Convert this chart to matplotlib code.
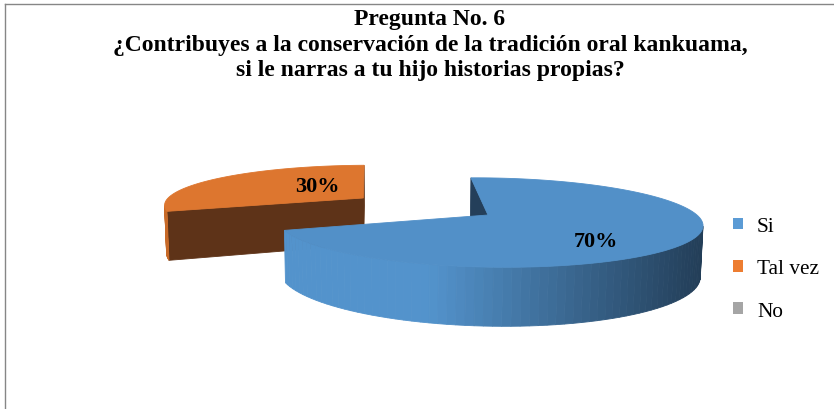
import numpy as np
import matplotlib.pyplot as plt
from matplotlib.patches import Polygon, Patch
from matplotlib.colors import to_rgb

# Datos
categorias = ["Si", "Tal vez", "No"]
valores = [70, 30, 0]
etiquetas = ["70%", "30%", "0%"]

titulo = ("Pregunta No. 6\n"
          "¿Contribuyes a la conservación de la tradición oral kankuama,\n"
          "si le narras a tu hijo historias propias?")

# Colores (estilo Office)
col_leyenda = ["#5B9BD5", "#ED7D31", "#A5A5A5"]
col_tapa = ["#5290C8", "#DD762F", "#A5A5A5"]
col_lado_claro = ["#5393CC", "#C86A28", "#A5A5A5"]
col_lado_osc = ["#233E58", "#9A5020", "#555555"]
col_corte = ["#243F5A", "#5E3318", "#555555"]

# Geometria del pastel 3D (con perspectiva)
phi = np.radians(12)         # elevacion de la camara
D = 5.8                      # distancia de la camara (radios)
f = 1212.0                   # focal en pixeles
h = 0.245                    # grosor del pastel
inicio = -1.5                # angulo del primer sector (horario desde arriba)
explosion = [0.0, 0.74, 0.0]
pos_etiqueta = [(142, 0.70), (322, 0.42), (0, 0.5)]   # (angulo, radio)
X0, Y0 = 402, 216
Xt = -(488 - X0) * D / f

v = np.array([0, np.cos(phi), -np.sin(phi)])
up = np.array([0, np.sin(phi), np.cos(phi)])
cam = np.array([Xt, 0, 0]) - D * v


def proj(P):
    P = np.atleast_2d(P)
    p = P - cam
    depth = p @ v
    sx = f * (P[:, 0] - Xt) / depth
    sy = f * (p @ up) / depth
    return np.column_stack([X0 + sx, Y0 - sy]), depth


def mezcla(c1, c2, t):
    a, b = np.array(to_rgb(c1)), np.array(to_rgb(c2))
    return tuple(a + (b - a) * np.clip(t, 0, 1))


plt.rcParams["font.family"] = ["Liberation Serif", "DejaVu Serif"]

fig = plt.figure(figsize=(8.34, 4.10), dpi=100)
ax = fig.add_axes([0, 0, 1, 1])
ax.set_xlim(0, 834)
ax.set_ylim(410, 0)
ax.axis("off")

# marco del grafico
ax.plot([5.5, 5.5], [4.5, 410], color="#868686", lw=1)
ax.plot([5.5, 834], [4.5, 4.5], color="#868686", lw=1)

total = sum(valores)
bordes = inicio + 360 * np.concatenate([[0], np.cumsum(valores)]) / total

sectores = []
for i, val in enumerate(valores):
    if val <= 0:
        continue
    t0, t1 = np.radians(bordes[i]), np.radians(bordes[i + 1])
    tm = (t0 + t1) / 2
    o = explosion[i] * np.array([np.sin(tm), np.cos(tm)])
    _, dc = proj([o[0], o[1], 0])
    sectores.append((dc[0], i, t0, t1, o))

# dibujar del mas lejano al mas cercano
sectores.sort(key=lambda s: -s[0])
for _, i, t0, t1, o in sectores:
    ts = np.linspace(t0, t1, 120)
    arriba = np.column_stack([o[0] + np.sin(ts), o[1] + np.cos(ts), np.zeros_like(ts)])
    abajo = arriba.copy()
    abajo[:, 2] = -h
    c_arr = np.array([o[0], o[1], 0])
    c_ab = np.array([o[0], o[1], -h])
    caras = []

    # caras de corte
    for t, signo in ((t0, -1), (t1, 1)):
        n = signo * np.array([np.cos(t), -np.sin(t), 0])
        pt = np.array([o[0] + np.sin(t), o[1] + np.cos(t), 0])
        if n @ (cam - (pt + c_arr) / 2) > 0:
            quad = np.array([c_arr, pt, pt - [0, 0, h], c_ab])
            xy, dd = proj(quad)
            caras.append((dd.mean(), xy, col_corte[i]))

    # lado exterior
    xy_a, d_a = proj(arriba)
    xy_b, d_b = proj(abajo)
    for k in range(len(ts) - 1):
        tk = (ts[k] + ts[k + 1]) / 2
        n = np.array([np.sin(tk), np.cos(tk), 0])
        if n @ (cam - arriba[k]) <= 0:
            continue
        xy = np.array([xy_a[k], xy_a[k + 1], xy_b[k + 1], xy_b[k]])
        tx = (xy[:, 0].mean() - 430) / 270
        caras.append((d_a[k], xy, mezcla(col_lado_claro[i], col_lado_osc[i], tx)))

    caras.sort(key=lambda c: -c[0])
    for _, xy, col in caras:
        ax.add_patch(Polygon(xy, closed=True, facecolor=col, edgecolor=col, lw=0.6))

    xy_c, _ = proj(c_arr)
    tapa = np.vstack([xy_c, xy_a])
    ax.add_patch(Polygon(tapa, closed=True, facecolor=col_tapa[i],
                         edgecolor=col_tapa[i], lw=0.6))

    ang, r = pos_etiqueta[i]
    a = np.radians(ang)
    xy_l, _ = proj([o[0] + r * np.sin(a), o[1] + r * np.cos(a), 0])
    ax.text(xy_l[0, 0], xy_l[0, 1], etiquetas[i], ha="center", va="center",
            fontsize=16, fontweight="bold", color="black")

ax.text(430, 45, titulo, ha="center", va="center", fontsize=17,
        fontweight="bold", linespacing=1.3)

handles = [Patch(facecolor=c, edgecolor="none") for c in col_leyenda]
ax.legend(handles, categorias, loc="center left",
          bbox_to_anchor=(733 / 834, 1 - 270 / 410), frameon=False,
          fontsize=15.3, handlelength=0.47, handleheight=0.47,
          handletextpad=0.66, labelspacing=1.1, borderpad=0, borderaxespad=0)

fig.savefig("out.png", dpi=100)
